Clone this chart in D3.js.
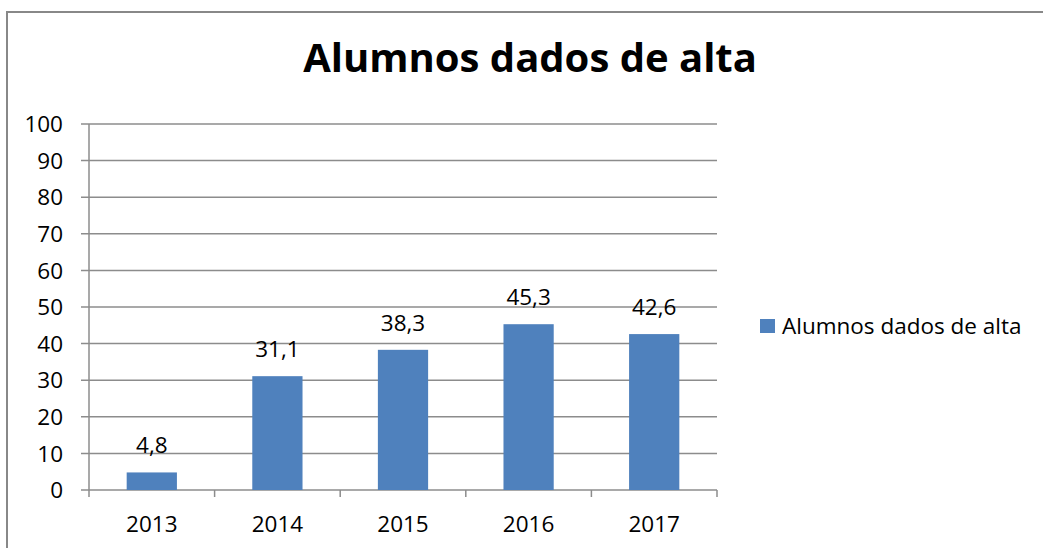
<!DOCTYPE html>
<html><head><meta charset="utf-8">
<script src="https://cdn.jsdelivr.net/npm/d3@7"></script>
<style>body{margin:0;background:#fff}svg{display:block}text{font-family:"Open Sans",sans-serif;fill:#000}</style>
</head><body>
<script>
const categories = ["2013","2014","2015","2016","2017"];
const values = [4.8, 31.1, 38.3, 45.3, 42.6];
const valueLabels = ["4,8","31,1","38,3","45,3","42,6"];
const yTicks = [0,10,20,30,40,50,60,70,80,90,100];
const seriesName = "Alumnos dados de alta";
const title = "Alumnos dados de alta";

(function(){
const W = 1043, H = 548;
const svg = d3.select("body").append("svg").attr("width", W).attr("height", H);
svg.append("rect").attr("x",7).attr("y",12).attr("width",W+10).attr("height",H+10)
  .attr("fill","none").attr("stroke","#888").attr("stroke-width",2);

const pL = 89, pR = 717, pT = 124, pB = 490;
const x = d3.scaleBand().domain(categories).range([pL,pR]).paddingInner(0.6).paddingOuter(0.3);
const y = d3.scaleLinear().domain([0,100]).range([pB,pT]);
const gridColor = "#8c8c8c";
const fs = 22.5;

svg.append("text").attr("x",530).attr("y",72).attr("text-anchor","middle")
  .attr("font-size",40).attr("font-weight","bold").text(title);

svg.append("g").selectAll("line").data(yTicks).join("line")
  .attr("x1",pL-8).attr("x2",pR).attr("y1",d=>y(d)).attr("y2",d=>y(d))
  .attr("stroke",gridColor).attr("stroke-width",1.5);
svg.append("g").selectAll("text").data(yTicks).join("text")
  .attr("x",63).attr("y",d=>y(d)).attr("dy","0.36em").attr("text-anchor","end")
  .attr("font-size",fs).text(d=>d);
svg.append("line").attr("x1",pL).attr("x2",pL).attr("y1",pT).attr("y2",pB+7)
  .attr("stroke",gridColor).attr("stroke-width",1.5);
const step = x.step();
const bounds = categories.map(c=>x(c)+x.bandwidth()+step*0.3);
svg.append("g").selectAll("line").data(bounds).join("line")
  .attr("x1",d=>d).attr("x2",d=>d).attr("y1",pB).attr("y2",pB+7)
  .attr("stroke",gridColor).attr("stroke-width",1.5);
svg.append("g").selectAll("text").data(categories).join("text")
  .attr("x",d=>x(d)+x.bandwidth()/2).attr("y",532).attr("text-anchor","middle")
  .attr("font-size",fs).text(d=>d);

svg.append("g").selectAll("rect").data(values).join("rect")
  .attr("x",(d,i)=>x(categories[i])).attr("width",x.bandwidth())
  .attr("y",d=>y(d)).attr("height",d=>pB-y(d)).attr("fill","#4F81BD");
svg.append("g").selectAll("text").data(values).join("text")
  .attr("x",(d,i)=>x(categories[i])+x.bandwidth()/2).attr("y",d=>y(d)-19)
  .attr("text-anchor","middle").attr("font-size",fs).text((d,i)=>valueLabels[i]);

svg.append("rect").attr("x",760).attr("y",319).attr("width",15).attr("height",14).attr("fill","#4F81BD");
svg.append("text").attr("x",782).attr("y",334).attr("font-size",fs).text(seriesName);
})();
</script>
</body></html>
